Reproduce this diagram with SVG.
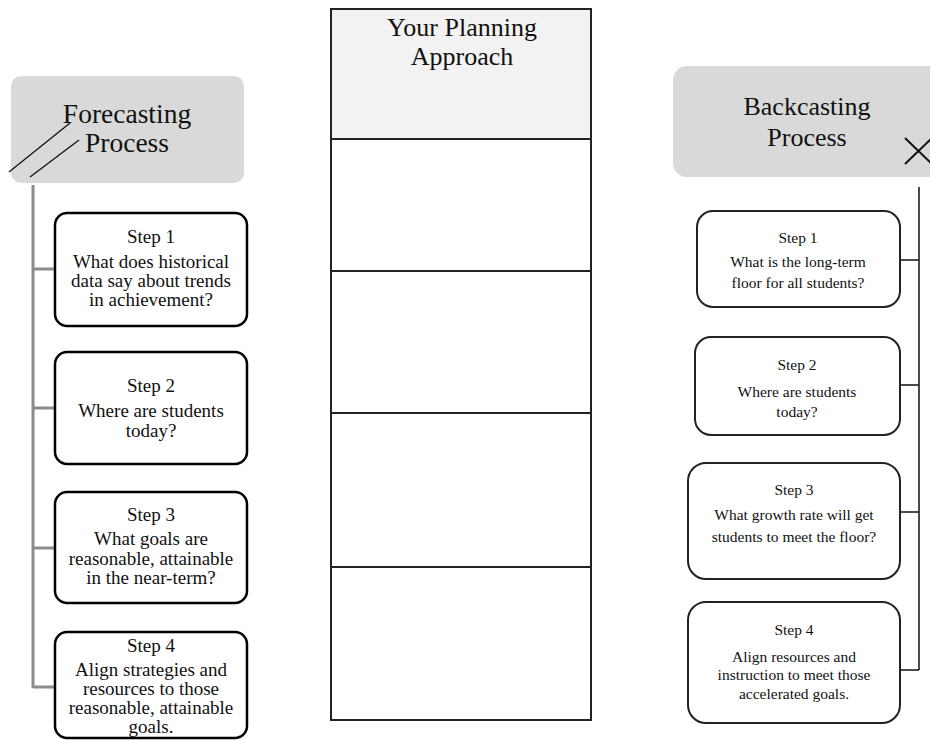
<svg xmlns="http://www.w3.org/2000/svg" width="930" height="740" viewBox="0 0 930 740">
<style>
.hdr{fill:#d9d9d9;stroke:none}
.box{fill:#fff;stroke:#000;stroke-width:2.5}
.rbox{fill:#fff;stroke:#222;stroke-width:2}
.t{font-family:"Liberation Serif","Times New Roman",serif;fill:#111;text-anchor:middle}
.big{font-size:26px}
.fc{font-size:27.5px}
.mid{font-size:19px}
.sm{font-size:15.5px}
.gray{stroke:#8c8c8c;stroke-width:3;fill:none}
.blk{stroke:#111;stroke-width:1.5;fill:none}
.col{fill:none;stroke:#222;stroke-width:2}
</style>
<rect width="930" height="740" fill="#fff"/>

<g id="connectors">
  <path class="gray" d="M33,185 V688 M33,269 H56 M33,408 H56 M33,548 H56 M33,687 H56"/>
  <path class="blk" d="M919,187 V670 M900,260 H919 M900,385 H919 M900,512 H919 M900,670 H919"/>
</g>

<g id="forecasting-header">
  <rect class="hdr" x="11" y="76" width="233" height="107" rx="10"/>
  <text class="t fc" x="127" y="123">Forecasting</text>
  <text class="t fc" x="127" y="152">Process</text>
  <line x1="70" y1="123" x2="9" y2="172" stroke="#111" stroke-width="1.3"/>
  <line x1="79" y1="140" x2="30" y2="177" stroke="#111" stroke-width="1.3"/>
</g>

<g id="f-step1">
  <rect class="box" x="55" y="213" width="192" height="113" rx="12"/>
  <text class="t mid" x="151" y="243">Step 1</text>
  <text class="t mid" x="151" y="268">What does historical</text>
  <text class="t mid" x="151" y="287">data say about trends</text>
  <text class="t mid" x="151" y="306">in achievement?</text>
</g>
<g id="f-step2">
  <rect class="box" x="55" y="352" width="192" height="112" rx="12"/>
  <text class="t mid" x="151" y="392">Step 2</text>
  <text class="t mid" x="151" y="417">Where are students</text>
  <text class="t mid" x="151" y="437">today?</text>
</g>
<g id="f-step3">
  <rect class="box" x="55" y="492" width="192" height="111" rx="12"/>
  <text class="t mid" x="151" y="521">Step 3</text>
  <text class="t mid" x="151" y="545">What goals are</text>
  <text class="t mid" x="151" y="565">reasonable, attainable</text>
  <text class="t mid" x="151" y="584">in the near-term?</text>
</g>
<g id="f-step4">
  <rect class="box" x="55" y="632" width="192" height="106" rx="12"/>
  <text class="t mid" x="151" y="652">Step 4</text>
  <text class="t mid" x="151" y="676">Align strategies and</text>
  <text class="t mid" x="151" y="695">resources to those</text>
  <text class="t mid" x="151" y="714">reasonable, attainable</text>
  <text class="t mid" x="151" y="733">goals.</text>
</g>

<g id="planning-column">
  <rect x="331" y="9" width="260" height="130" fill="#f2f2f2"/>
  <rect class="col" x="331" y="9" width="260" height="711"/>
  <path d="M331,139 H591 M331,271 H591 M331,413 H591 M331,567 H591" stroke="#222" stroke-width="2" fill="none"/>
  <text class="t big" x="462" y="36">Your Planning</text>
  <text class="t big" x="462" y="65">Approach</text>
</g>

<g id="backcasting-header">
  <rect class="hdr" x="673" y="66" width="270" height="111" rx="14"/>
  <text class="t big" x="807" y="115">Backcasting</text>
  <text class="t big" x="807" y="146">Process</text>
  <line x1="905" y1="138" x2="932" y2="164" stroke="#111" stroke-width="2"/>
  <line x1="905" y1="164" x2="932" y2="138" stroke="#111" stroke-width="2"/>
</g>

<g id="b-step1">
  <rect class="rbox" x="697" y="211" width="203" height="96" rx="16"/>
  <text class="t sm" x="798" y="243">Step 1</text>
  <text class="t sm" x="798" y="267">What is the long-term</text>
  <text class="t sm" x="798" y="288">floor for all students?</text>
</g>
<g id="b-step2">
  <rect class="rbox" x="695" y="337" width="205" height="98" rx="16"/>
  <text class="t sm" x="797" y="370">Step 2</text>
  <text class="t sm" x="797" y="397">Where are students</text>
  <text class="t sm" x="797" y="417">today?</text>
</g>
<g id="b-step3">
  <rect class="rbox" x="688" y="463" width="212" height="116" rx="18"/>
  <text class="t sm" x="794" y="495">Step 3</text>
  <text class="t sm" x="794" y="520">What growth rate will get</text>
  <text class="t sm" x="794" y="542">students to meet the floor?</text>
</g>
<g id="b-step4">
  <rect class="rbox" x="688" y="602" width="212" height="121" rx="18"/>
  <text class="t sm" x="794" y="635">Step 4</text>
  <text class="t sm" x="794" y="662">Align resources and</text>
  <text class="t sm" x="794" y="680">instruction to meet those</text>
  <text class="t sm" x="794" y="699">accelerated goals.</text>
</g>
</svg>
